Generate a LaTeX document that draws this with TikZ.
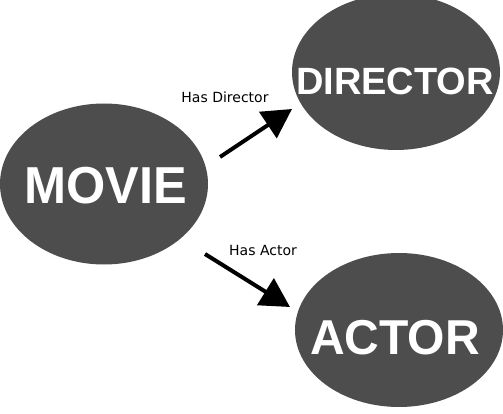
\documentclass[tikz,border=0pt]{standalone}
\usepackage{fontspec}
\setmainfont{DejaVu Sans}
\newfontfamily\blobfont{Liberation Sans}
\usetikzlibrary{arrows.meta,shapes.geometric}
\definecolor{blobgray}{HTML}{4D4D4D}

\begin{document}
\begin{tikzpicture}[x=1pt,y=-1pt,line width=4pt,
	arrows={-Triangle[length=29pt,width=31pt]},
	blob/.style={ellipse,fill=blobgray,inner sep=0pt},
	blobtext/.style={text=white,inner sep=0pt,font=\blobfont\bfseries},
	rel/.style={inner sep=0pt,font=\fontsize{14}{16}\selectfont}]
	\useasboundingbox (0,0) rectangle (503,414);
	\node[blob,minimum width=208pt,minimum height=161pt] (movie) at (104,184) {};
	\node[blob,minimum width=208pt,minimum height=156pt] (director) at (396,72) {};
	\node[blob,minimum width=208pt,minimum height=154pt] (actor) at (399,330) {};
	\node[blobtext,font=\blobfont\bfseries\fontsize{52}{62}\selectfont] (movietext) at (106,186) {\scalebox{0.97}[1]{MOVIE}};
	\node[blobtext,font=\blobfont\bfseries\fontsize{38}{46}\selectfont] (directortext) at (395,81) {DIRECTOR};
	\node[blobtext,font=\blobfont\bfseries\fontsize{49}{58}\selectfont] (actortext) at (395,338) {\scalebox{0.98}[1]{ACTOR}};
	\coordinate (D1) at (220,157);
	\coordinate (D2) at (292,109);
	\coordinate (A1) at (205,254);
	\coordinate (A2) at (290,307);
	\draw (D1) -- (D2);
	\draw (A1) -- (A2);
	\node[rel] (hasdirector) at (225,97) {Has Director};
	\node[rel] (hasactor) at (263,250) {Has Actor};
\end{tikzpicture}
\end{document}
